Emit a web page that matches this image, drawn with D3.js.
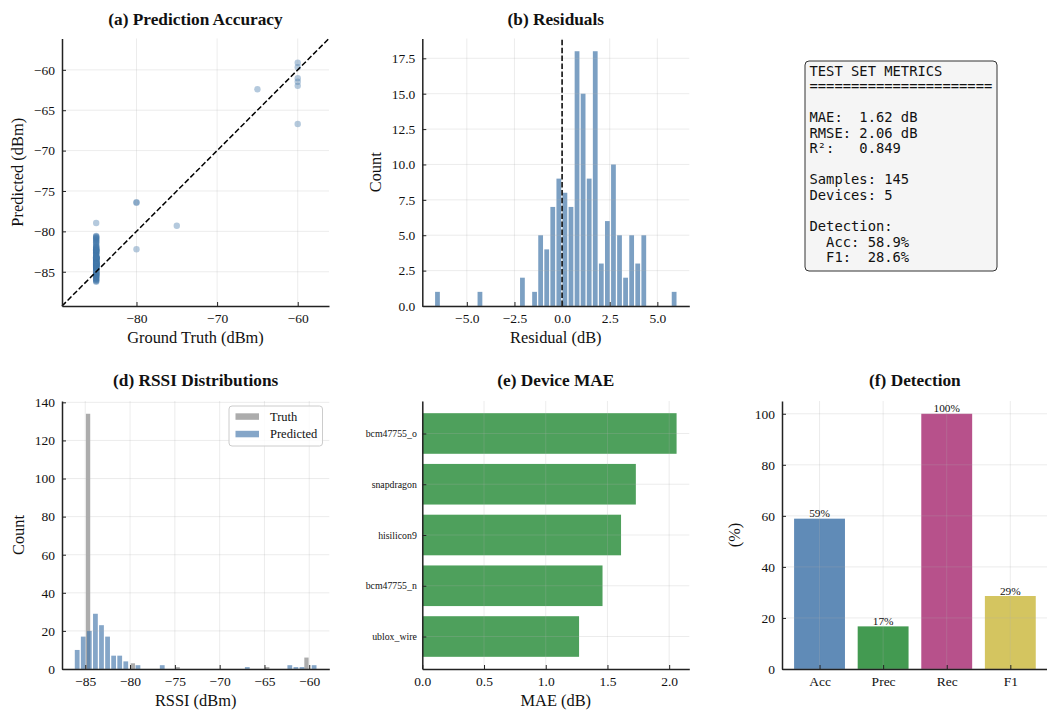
<!DOCTYPE html>
<html>
<head>
<meta charset="utf-8">
<script src="https://cdn.jsdelivr.net/npm/d3@7"></script>
<style>
  body { margin: 0; background: #fff; }
  svg { display: block; }
  text { font-family: "Liberation Serif", "Times New Roman", serif; fill: #111; }
</style>
</head>
<body>
<svg id="fig" width="1047" height="716"></svg>
<script>
// ---------------------------------------------------------------
// Data
// ---------------------------------------------------------------
// Ground-truth RSSI levels (dBm) of the test set and the model's
// predicted RSSI for every sample recorded at that level.
const truthLevels = [-85, -80, -75, -65, -60];
const predictedAtLevel = [
  [-86.24, -86.15, -86.08, -86.00, -85.92, -85.85, -85.77, -85.70,
   -85.63, -85.59, -85.52, -85.47, -85.43, -85.39, -85.35,
   -85.31, -85.27, -85.24, -85.20, -85.17, -85.13, -85.10, -85.06, -85.03,
   -84.99, -84.95, -84.91, -84.85, -84.81, -84.78, -84.75, -84.72,
   -84.66, -84.60, -84.55, -84.50, -84.45, -84.40,
   -84.36, -84.34, -84.32, -84.30, -84.28, -84.27, -84.25, -84.23, -84.22,
   -84.18, -84.16, -84.14, -84.13, -84.11, -84.10, -84.08, -84.07,
   -84.04, -84.02, -84.00, -83.98, -83.96, -83.94, -83.92, -83.90,
   -83.88, -83.86, -83.84, -83.82, -83.80, -83.78, -83.76,
   -83.72, -83.69, -83.65, -83.61, -83.58, -83.55, -83.50, -83.47, -83.44,
   -83.40, -83.38, -83.37, -83.35, -83.34, -83.32, -83.30, -83.29, -83.27,
   -83.25, -83.24, -83.22, -83.20, -83.19, -83.17, -83.15, -83.14, -83.12,
   -83.05, -82.92, -82.81,
   -82.75, -82.70, -82.65, -82.60, -82.55, -82.50,
   -82.44, -82.41, -82.38, -82.35, -82.32, -82.29, -82.26, -82.23, -82.20,
   -82.12, -82.05, -81.98, -81.92, -81.86,
   -81.75, -81.60,
   -81.42, -81.34, -81.25,
   -81.13, -81.05, -80.95,
   -80.84, -80.77, -80.70, -80.63, -80.57,
   -78.96],
  [-76.45, -76.40, -82.22],
  [-79.30],
  [-62.40],
  [-59.12, -59.67, -61.03, -61.48, -61.98, -66.70]
];

// Per-device mean absolute error (dB)
const deviceNames = ["ublox_wire", "bcm47755_n", "hisilicon9", "snapdragon", "bcm47755_o"];
const deviceMAE = [1.27, 1.46, 1.61, 1.73, 2.06];

// Detection scores (%)
const detectionLabels = ["Acc", "Prec", "Rec", "F1"];
const detectionScores = [58.9, 16.7, 100, 28.6];

// Summary metrics for the text panel
const errorMetricNames = ["MAE:  ", "RMSE: ", "R\u00b2:   "];
const errorMetricValues = ["1.62 dB", "2.06 dB", "0.849"];
const sampleCount = 145;
const deviceCount = 5;

// Tick values
const accTicks = [-80, -70, -60];
const accYTicks = [-85, -80, -75, -70, -65, -60];
const residXTicks = [-5, -2.5, 0, 2.5, 5];
const residYTicks = [0, 2.5, 5, 7.5, 10, 12.5, 15, 17.5];
const rssiXTicks = [-85, -80, -75, -70, -65, -60];
const rssiYTicks = [0, 20, 40, 60, 80, 100, 120, 140];
const maeTicks = [0, 0.5, 1.0, 1.5, 2.0];
const pctTicks = [0, 20, 40, 60, 80, 100];

// ---------------------------------------------------------------
// Derived samples
// ---------------------------------------------------------------
const samples = [];
truthLevels.forEach((t, i) => predictedAtLevel[i].forEach(p => samples.push({ truth: t, pred: p })));
const truthVals = samples.map(d => d.truth);
const predVals = samples.map(d => d.pred);
const residuals = samples.map(d => d.pred - d.truth);

// 40 equal-width bins spanning the data range
function hist40(values) {
  const [lo, hi] = d3.extent(values);
  const step = (hi - lo) / 40;
  return d3.bin().domain([lo, hi]).thresholds(d3.range(1, 40).map(i => lo + i * step))(values);
}

// ---------------------------------------------------------------
// Styling helpers
// ---------------------------------------------------------------
const COL = { blue: "#4477AA", green: "#228833", purple: "#AA3377", yellow: "#CCBB44", grey: "#808080" };
const svg = d3.select("#fig");
const TICK_FONT = 13.5, LABEL_FONT = 16.4, TITLE_FONT = 17.3;

function makeAxes(box, x, y, o) {
  const g = svg.append("g");
  const L = {
    marks: g.append("g"),
    grid: g.append("g"),
    over: g.append("g"),
    frame: g.append("g")
  };
  const xGrid = o.xGrid || o.xTicks, yGrid = o.yGrid || o.yTicks;
  xGrid.forEach(t => L.grid.append("line")
    .attr("x1", x(t)).attr("x2", x(t)).attr("y1", box.top).attr("y2", box.bottom)
    .attr("stroke", "#b0b0b0").attr("stroke-opacity", 0.3).attr("stroke-width", 0.8));
  yGrid.forEach(t => L.grid.append("line")
    .attr("y1", y(t)).attr("y2", y(t)).attr("x1", box.left).attr("x2", box.right)
    .attr("stroke", "#b0b0b0").attr("stroke-opacity", 0.3).attr("stroke-width", 0.8));

  const xa = d3.axisBottom(x).tickValues(o.xTicks).tickFormat(o.xFmt)
    .tickSizeInner(-4).tickSizeOuter(0).tickPadding(7.5);
  const ya = d3.axisLeft(y).tickValues(o.yTicks).tickFormat(o.yFmt)
    .tickSizeInner(-4).tickSizeOuter(0).tickPadding(o.yPad || 7);
  const gx = L.frame.append("g").attr("transform", `translate(0,${box.bottom})`).call(xa);
  const gy = L.frame.append("g").attr("transform", `translate(${box.left},0)`).call(ya);
  [gx, gy].forEach(a => {
    a.select(".domain").attr("stroke", "#222").attr("stroke-width", 1.5);
    a.selectAll(".tick line").attr("stroke", "#222").attr("stroke-width", 1);
    a.selectAll(".tick text").attr("fill", "#111")
      .style("font-family", '"Liberation Serif", serif').style("font-size", TICK_FONT + "px");
  });
  if (o.yFont) gy.selectAll(".tick text").style("font-size", o.yFont + "px");

  // title and axis labels
  svg.append("text").attr("x", (box.left + box.right) / 2).attr("y", o.titleY)
    .attr("text-anchor", "middle").style("font-size", TITLE_FONT + "px").style("font-weight", "bold")
    .text(o.title);
  if (o.xLabel) svg.append("text").attr("x", (box.left + box.right) / 2).attr("y", box.bottom + 37)
    .attr("text-anchor", "middle").style("font-size", LABEL_FONT + "px").text(o.xLabel);
  if (o.yLabel) svg.append("text")
    .attr("transform", `translate(${o.yLabelX},${(box.top + box.bottom) / 2}) rotate(-90)`)
    .attr("text-anchor", "middle").style("font-size", LABEL_FONT + "px").text(o.yLabel);
  return L;
}

function histBars(layer, bins, x, y, color, opacity) {
  layer.selectAll(null).data(bins.filter(b => b.length > 0)).join("rect")
    .attr("x", b => x(b.x0) + 0.65)
    .attr("width", b => Math.max(0, x(b.x1) - x(b.x0) - 1.3))
    .attr("y", b => y(b.length))
    .attr("height", b => y(0) - y(b.length))
    .attr("fill", color).attr("fill-opacity", opacity);
}

const TOP = { top: 38.5, bottom: 306 };
const BOT = { top: 401, bottom: 669 };

// ---------------------------------------------------------------
// (a) Prediction accuracy scatter
// ---------------------------------------------------------------
{
  const allVals = truthVals.concat(predVals);
  const lims = [d3.min(allVals) - 3, d3.max(allVals) + 3];
  const box = { left: 62, right: 329, top: TOP.top, bottom: TOP.bottom };
  const x = d3.scaleLinear().domain(lims).range([box.left, box.right]);
  const y = d3.scaleLinear().domain(lims).range([box.bottom, box.top]);
  const L = makeAxes(box, x, y, {
    xTicks: accTicks, yTicks: accYTicks, xFmt: d3.format("d"), yFmt: d3.format("d"),
    title: "(a) Prediction Accuracy", titleY: 24.5,
    xLabel: "Ground Truth (dBm)", yLabel: "Predicted (dBm)", yLabelX: 23
  });
  L.marks.selectAll("circle").data(samples).join("circle")
    .attr("cx", d => x(d.truth)).attr("cy", d => y(d.pred)).attr("r", 3.2)
    .attr("fill", COL.blue).attr("fill-opacity", 0.4);
  L.over.append("line")
    .attr("x1", x(lims[0])).attr("y1", y(lims[0])).attr("x2", x(lims[1])).attr("y2", y(lims[1]))
    .attr("stroke", "#000").attr("stroke-width", 1.5).attr("stroke-dasharray", "5.5,2.4");
}

// ---------------------------------------------------------------
// (b) Residual histogram
// ---------------------------------------------------------------
{
  const bins = hist40(residuals);
  const [lo, hi] = d3.extent(residuals);
  const pad = (hi - lo) * 0.05;
  const yMax = d3.max(bins, b => b.length) * 1.05;
  const box = { left: 422.3, right: 689.3, top: TOP.top, bottom: TOP.bottom };
  const x = d3.scaleLinear().domain([lo - pad, hi + pad]).range([box.left, box.right]);
  const y = d3.scaleLinear().domain([0, yMax]).range([box.bottom, box.top]);
  const L = makeAxes(box, x, y, {
    xTicks: residXTicks, yTicks: residYTicks, xFmt: d3.format(".1f"), yFmt: d3.format(".1f"),
    title: "(b) Residuals", titleY: 24.5,
    xLabel: "Residual (dB)", yLabel: "Count", yLabelX: 380.5
  });
  histBars(L.marks, bins, x, y, COL.blue, 0.7);
  L.over.append("line")
    .attr("x1", x(0)).attr("x2", x(0)).attr("y1", box.bottom).attr("y2", box.top)
    .attr("stroke", "#000").attr("stroke-width", 1.5).attr("stroke-dasharray", "5.5,2.4");
}

// ---------------------------------------------------------------
// (c) Test-set metrics text panel
// ---------------------------------------------------------------
{
  const lines = [
    "TEST SET METRICS",
    "======================",
    "",
    ...errorMetricNames.map((n, i) => n + errorMetricValues[i]),
    "",
    "Samples: " + sampleCount,
    "Devices: " + deviceCount,
    "",
    "Detection:",
    "  Acc: " + d3.format(".1f")(detectionScores[0]) + "%",
    "  F1:  " + d3.format(".1f")(detectionScores[3]) + "%"
  ];
  const g = svg.append("g");
  g.append("rect").attr("x", 805).attr("y", 61).attr("width", 192).attr("height", 210)
    .attr("rx", 4).attr("fill", "#f5f5f5").attr("stroke", "#333").attr("stroke-width", 1);
  g.selectAll("text").data(lines).join("text")
    .attr("x", 809.5).attr("y", (d, i) => 75.6 + i * 15.55)
    .attr("xml:space", "preserve")
    .style("font-family", '"DejaVu Sans Mono", monospace').style("font-size", "13.8px")
    .style("white-space", "pre")
    .text(d => d);
}

// ---------------------------------------------------------------
// (d) RSSI distributions
// ---------------------------------------------------------------
{
  const tBins = hist40(truthVals);
  const pBins = hist40(predVals);
  const lo = Math.min(d3.min(truthVals), d3.min(predVals));
  const hi = Math.max(d3.max(truthVals), d3.max(predVals));
  const pad = (hi - lo) * 0.05;
  const yMax = Math.max(d3.max(tBins, b => b.length), d3.max(pBins, b => b.length)) * 1.05;
  const box = { left: 62, right: 329.3, top: BOT.top, bottom: BOT.bottom };
  const x = d3.scaleLinear().domain([lo - pad, hi + pad]).range([box.left, box.right]);
  const y = d3.scaleLinear().domain([0, yMax]).range([box.bottom, box.top]);
  const L = makeAxes(box, x, y, {
    xTicks: rssiXTicks, yTicks: rssiYTicks, xFmt: d3.format("d"), yFmt: d3.format("d"),
    title: "(d) RSSI Distributions", titleY: 386,
    xLabel: "RSSI (dBm)", yLabel: "Count", yLabelX: 23.5
  });
  histBars(L.marks.append("g"), tBins, x, y, COL.grey, 0.65);
  histBars(L.marks.append("g"), pBins, x, y, COL.blue, 0.65);

  // legend
  const lg = L.frame.append("g");
  lg.append("rect").attr("x", 229).attr("y", 406).attr("width", 93.5).attr("height", 40)
    .attr("rx", 3).attr("fill", "#fff").attr("fill-opacity", 0.8)
    .attr("stroke", "#ccc").attr("stroke-width", 1);
  const entries = [["Truth", COL.grey], ["Predicted", COL.blue]];
  entries.forEach(([name, c], i) => {
    lg.append("rect").attr("x", 235.5).attr("y", 413.3 + i * 17.5).attr("width", 23.5).attr("height", 6.5)
      .attr("fill", c).attr("fill-opacity", 0.65);
    lg.append("text").attr("x", 270).attr("y", 420.5 + i * 17.5)
      .style("font-size", "12.5px").text(name);
  });
}

// ---------------------------------------------------------------
// (e) Per-device MAE
// ---------------------------------------------------------------
{
  const n = deviceNames.length;
  const xMax = d3.max(deviceMAE) * 1.05;
  const ySpan = (n - 1 + 0.8) * 1.1;
  const yLo = -0.4 - (n - 1 + 0.8) * 0.05;
  const box = { left: 422.3, right: 689.3, top: BOT.top, bottom: BOT.bottom };
  const x = d3.scaleLinear().domain([0, xMax]).range([box.left, box.right]);
  const y = d3.scaleLinear().domain([yLo, yLo + ySpan]).range([box.bottom, box.top]);
  const idx = d3.range(n);
  const L = makeAxes(box, x, y, {
    xTicks: maeTicks, yTicks: idx, xFmt: d3.format(".1f"), yFmt: i => deviceNames[i],
    yFont: 9.8, yPad: 5.5,
    title: "(e) Device MAE", titleY: 386,
    xLabel: "MAE (dB)"
  });
  L.marks.selectAll("rect").data(idx).join("rect")
    .attr("x", x(0)).attr("width", i => x(deviceMAE[i]) - x(0))
    .attr("y", i => y(i + 0.4)).attr("height", i => y(i - 0.4) - y(i + 0.4))
    .attr("fill", COL.green).attr("fill-opacity", 0.8);
}

// ---------------------------------------------------------------
// (f) Detection scores
// ---------------------------------------------------------------
{
  const n = detectionLabels.length;
  const xLo = -0.4 - (n - 1 + 0.8) * 0.05;
  const xHi = n - 1 + 0.4 + (n - 1 + 0.8) * 0.05;
  const box = { left: 782, right: 782 + (xHi - xLo) * 63.6, top: BOT.top, bottom: BOT.bottom };
  const x = d3.scaleLinear().domain([xLo, xHi]).range([box.left, box.right]);
  const y = d3.scaleLinear().domain([0, 105]).range([box.bottom, box.top]);
  const idx = d3.range(n);
  const colors = [COL.blue, COL.green, COL.purple, COL.yellow];
  const L = makeAxes(box, x, y, {
    xTicks: idx, yTicks: pctTicks, xFmt: i => detectionLabels[i], yFmt: d3.format("d"),
    title: "(f) Detection", titleY: 386,
    yLabel: "(%)", yLabelX: 739.5
  });
  L.marks.selectAll("rect").data(idx).join("rect")
    .attr("x", i => x(i - 0.4)).attr("width", i => x(i + 0.4) - x(i - 0.4))
    .attr("y", i => y(detectionScores[i])).attr("height", i => y(0) - y(detectionScores[i]))
    .attr("fill", i => colors[i]).attr("fill-opacity", 0.85);
  L.frame.selectAll("text.val").data(idx).join("text").attr("class", "val")
    .attr("x", i => x(i)).attr("y", i => y(detectionScores[i]) - 1.5)
    .attr("text-anchor", "middle").style("font-size", "11.3px")
    .text(i => d3.format(".0f")(detectionScores[i]) + "%");
}
</script>
</body>
</html>
